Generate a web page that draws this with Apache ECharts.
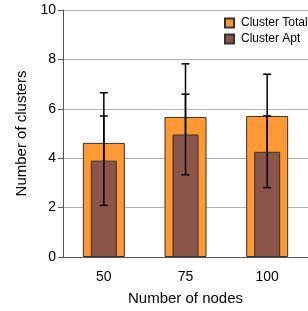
<!DOCTYPE html>
<html lang="en">
<head>
    <meta charset="UTF-8">
    <title>Clusters vs nodes</title>
    <script src="https://cdn.jsdelivr.net/npm/echarts@6/dist/echarts.min.js"></script>
</head>
<body style="margin:0">
<div id="main" style="width:308px;height:311px;"></div>
<script>
    // data
    var categories = ['50', '75', '100'];
    var totalMean = [4.62, 5.67, 5.71];
    var totalErr = [2.03, 2.15, 1.69];
    var aptMean = [3.90, 4.96, 4.26];
    var aptErr = [1.81, 1.63, 1.45];
    var yTicks = [0, 2, 4, 6, 8, 10];

    var FONT = 'Liberation Sans';

    function errData(mean, err) {
        var out = [];
        for (var i = 0; i < mean.length; i++) {
            out.push([i, mean[i] - err[i], mean[i] + err[i]]);
        }
        return out;
    }

    function renderErr(params, api) {
        var x = api.value(0);
        var lo = api.coord([x, api.value(1)]);
        var hi = api.coord([x, api.value(2)]);
        var cap = 4;
        var st = {stroke: '#000', lineWidth: 1.5};
        return {
            type: 'group',
            children: [
                {type: 'line', shape: {x1: hi[0], y1: hi[1], x2: lo[0], y2: lo[1]}, style: st},
                {type: 'line', shape: {x1: hi[0] - cap, y1: hi[1], x2: hi[0] + cap, y2: hi[1]}, style: st},
                {type: 'line', shape: {x1: lo[0] - cap, y1: lo[1], x2: lo[0] + cap, y2: lo[1]}, style: st}
            ]
        };
    }

    var myChart = echarts.init(document.getElementById('main'));
    var option = {
        animation: false,
        textStyle: {fontFamily: FONT},
        grid: {left: 63, top: 10, width: 250, bottom: 54, containLabel: false},
        legend: {
            orient: 'vertical',
            left: 224, top: 17,
            padding: 0,
            itemWidth: 9, itemHeight: 9, itemGap: 4,
            icon: 'rect',
            textStyle: {fontFamily: FONT, fontSize: 12, color: '#000', padding: [0, 0, 0, 2]},
            data: ['Cluster Total', 'Cluster Apt']
        },
        xAxis: [
            {
                type: 'category',
                data: categories,
                name: 'Number of nodes',
                nameLocation: 'middle',
                nameGap: 34,
                nameTextStyle: {fontFamily: FONT, fontSize: 15, color: '#000'},
                axisLine: {lineStyle: {color: '#555', width: 1}},
                axisTick: {show: false},
                axisLabel: {fontFamily: FONT, fontSize: 14, color: '#000', margin: 13}
            },
            {
                type: 'category',
                data: categories,
                position: 'bottom',
                show: false
            }
        ],
        yAxis: {
            type: 'value',
            min: yTicks[0], max: yTicks[yTicks.length - 1], interval: 2,
            name: 'Number of clusters',
            nameLocation: 'middle',
            nameGap: 25,
            nameTextStyle: {fontFamily: FONT, fontSize: 15, color: '#000'},
            axisLine: {show: true, lineStyle: {color: '#555', width: 1}},
            axisTick: {show: true, length: 5, lineStyle: {color: '#555'}},
            axisLabel: {fontFamily: FONT, fontSize: 14, color: '#000', margin: 7},
            splitLine: {lineStyle: {color: '#b3b3b3', width: 1}}
        },
        series: [
            {
                name: 'Cluster Total',
                type: 'bar',
                xAxisIndex: 0,
                z: 2,
                barWidth: 42,
                data: totalMean,
                itemStyle: {color: '#ff9933', borderColor: '#333', borderWidth: 1}
            },
            {
                name: 'Total err',
                type: 'custom',
                xAxisIndex: 0,
                z: 3,
                renderItem: renderErr,
                encode: {x: 0, y: [1, 2]},
                data: errData(totalMean, totalErr)
            },
            {
                name: 'Cluster Apt',
                type: 'bar',
                xAxisIndex: 1,
                z: 4,
                barWidth: 26,
                data: aptMean,
                itemStyle: {color: '#8b5549', borderColor: '#333', borderWidth: 1}
            },
            {
                name: 'Apt err',
                type: 'custom',
                xAxisIndex: 1,
                z: 5,
                renderItem: renderErr,
                encode: {x: 0, y: [1, 2]},
                data: errData(aptMean, aptErr)
            }
        ]
    };
    myChart.setOption(option);
</script>
</body>
</html>
